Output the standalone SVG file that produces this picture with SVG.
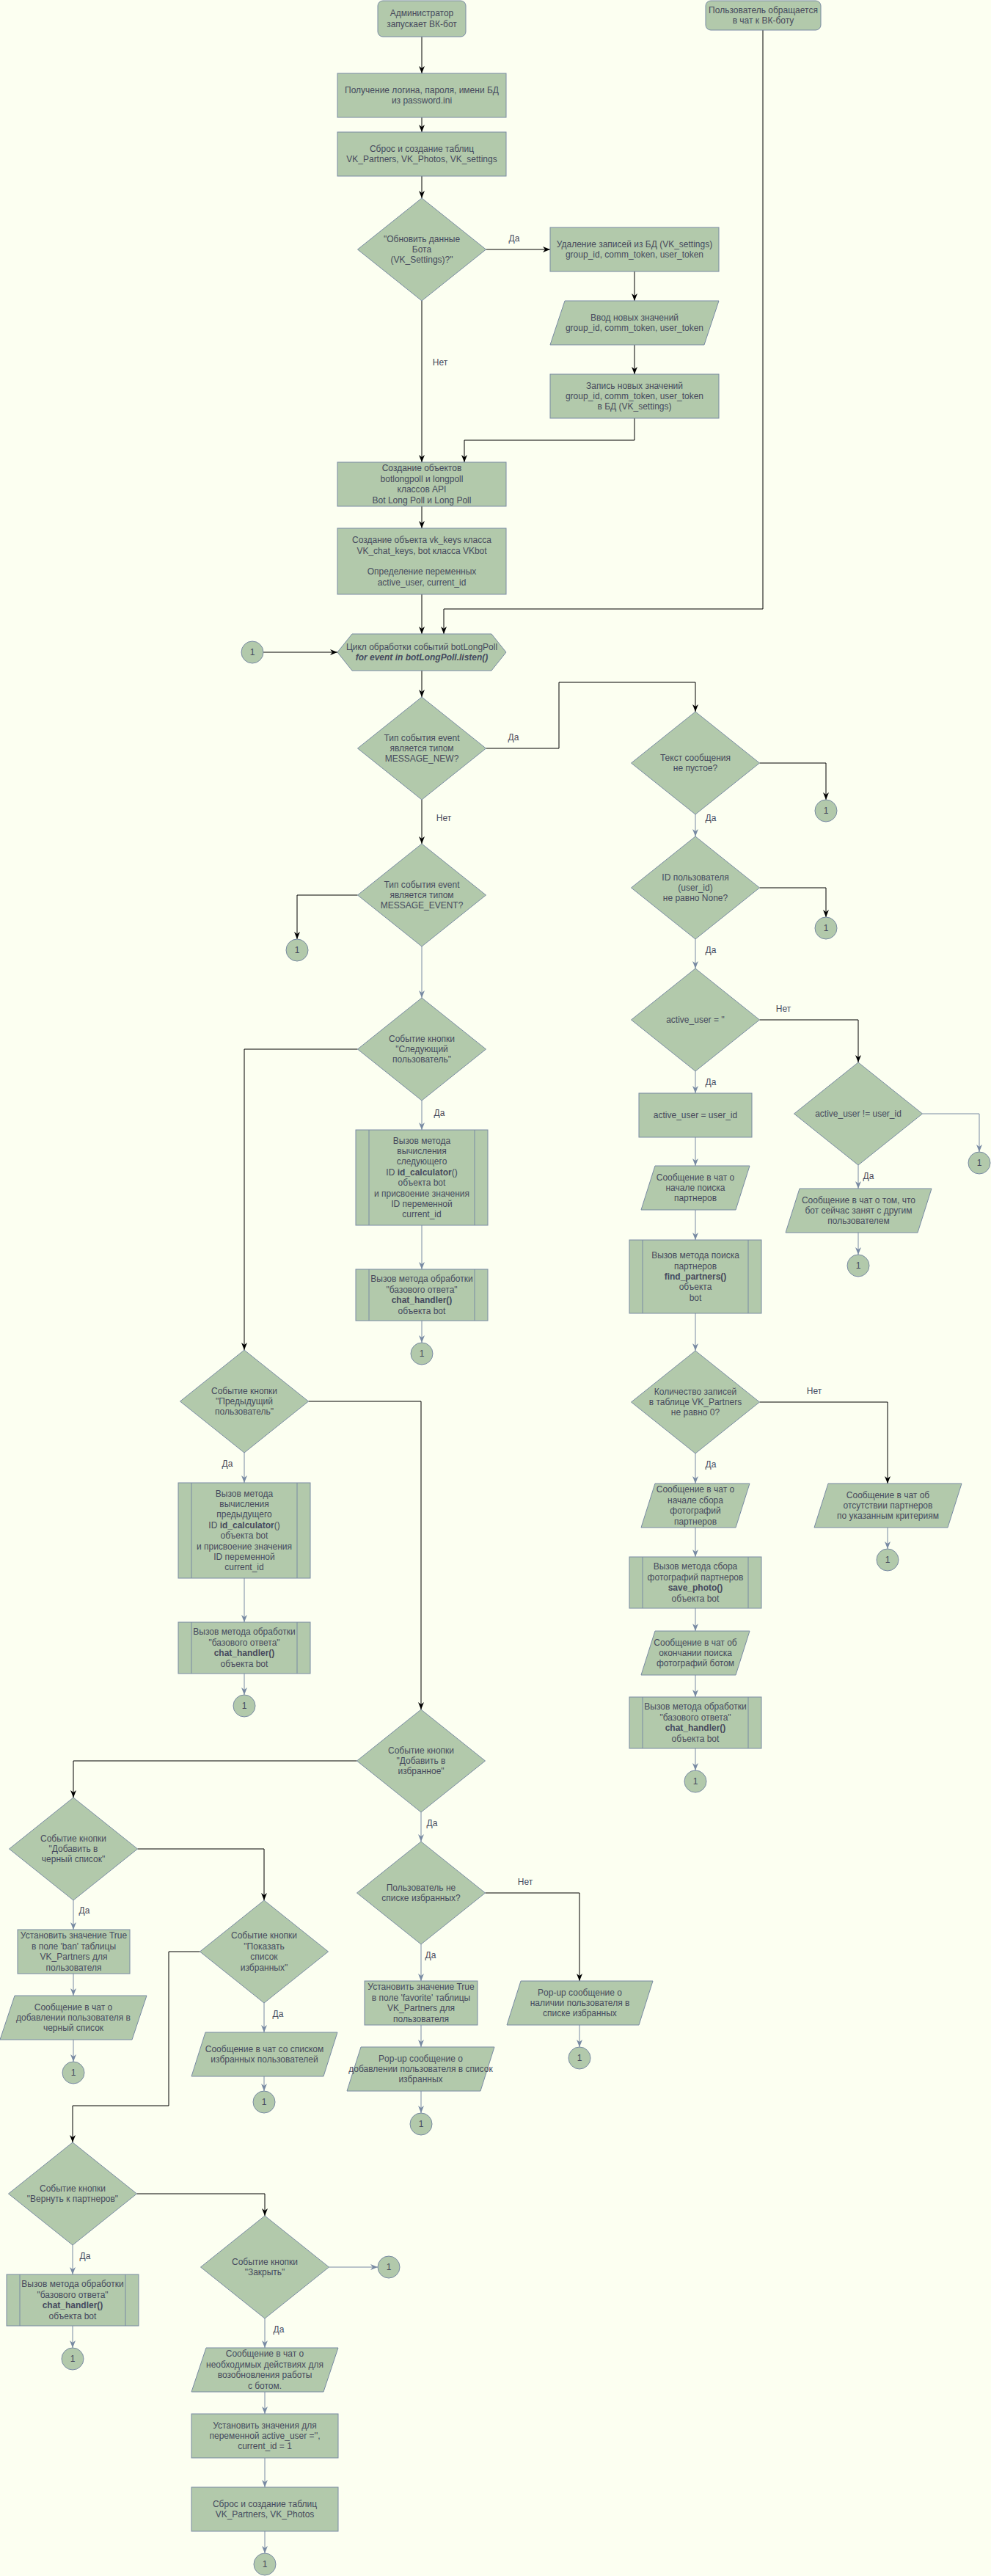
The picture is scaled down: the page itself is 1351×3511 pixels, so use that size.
<svg xmlns="http://www.w3.org/2000/svg" width="1351" height="3511" viewBox="0 0 1351 3511">
<style>
.n{fill:#B2C9AB;stroke:#788AA3;stroke-width:1}
.in{fill:none;stroke:#788AA3;stroke-width:1}
.t{font-family:"Liberation Sans",Arial,Helvetica,sans-serif;font-size:12px;fill:#46495D;text-anchor:middle}
.b{font-weight:bold}
.bi{font-weight:bold;font-style:italic}
.k{fill:none;stroke:#000;stroke-width:1}
.g{fill:none;stroke:#788AA3;stroke-width:1}
.k{marker-end:url(#ak)}
.g{marker-end:url(#ag)}
</style>
<defs>
<marker id="ak" viewBox="0 0 10 8" refX="10" refY="4" markerWidth="10" markerHeight="8" markerUnits="userSpaceOnUse" orient="auto"><path d="M0,0 L10,4 L0,8 L3,4 Z" fill="#000"/></marker>
<marker id="ag" viewBox="0 0 10 8" refX="10" refY="4" markerWidth="10" markerHeight="8" markerUnits="userSpaceOnUse" orient="auto"><path d="M0,0 L10,4 L0,8 L3,4 Z" fill="#788AA3"/></marker>
</defs>
<rect x="0" y="0" width="1351" height="3511" fill="#FCFFF1"/>

<g id="connectors">
<path class="k" d="M575,50 V100"/>
<path class="k" d="M575,160 V180"/>
<path class="k" d="M575,240 V270"/>
<path class="k" d="M662.5,340 H750"/>
<path class="k" d="M865,370 V410"/>
<path class="k" d="M865,470 V510"/>
<path class="k" d="M865,570 V600 H633 V630"/>
<path class="k" d="M575,410 V630"/>
<path class="k" d="M575,690 V720"/>
<path class="k" d="M575,810 V864"/>
<path class="k" d="M1040,41 V830 H605 V864"/>
<path class="k" d="M359,889 H460"/>
<path class="k" d="M575,914 V950"/>
<path class="k" d="M662.5,1020 H762 V930 H948 V970"/>
<path class="k" d="M575,1090 V1150"/>
<path class="k" d="M1035.5,1040 H1126 V1090"/>
<path class="g" d="M948,1110 V1140"/>
<path class="k" d="M1035.5,1210 H1126 V1250"/>
<path class="g" d="M948,1280 V1320"/>
<path class="k" d="M487.5,1220 H405 V1280"/>
<path class="g" d="M575,1290 V1360"/>
<path class="k" d="M1035.5,1390 H1170 V1448"/>
<path class="g" d="M948,1460 V1490"/>
<path class="g" d="M948,1550 V1589"/>
<path class="g" d="M948,1649 V1690"/>
<path class="g" d="M948,1790 V1841"/>
<path class="g" d="M1257.5,1518 H1335 V1570"/>
<path class="g" d="M1170,1588 V1620"/>
<path class="g" d="M1170,1680 V1710"/>
<path class="k" d="M1035.5,1911 H1210 V2022"/>
<path class="g" d="M1210,2082 V2111"/>
<path class="g" d="M948,1981 V2022"/>
<path class="g" d="M948,2082 V2122"/>
<path class="g" d="M948,2192 V2223"/>
<path class="g" d="M948,2283 V2313"/>
<path class="g" d="M948,2383 V2413"/>
<path class="g" d="M575,1500 V1540"/>
<path class="g" d="M575,1670 V1730"/>
<path class="g" d="M575,1800 V1830"/>
<path class="k" d="M487.5,1430 H333 V1840"/>
<path class="g" d="M333,1980 V2021"/>
<path class="g" d="M333,2151 V2211"/>
<path class="g" d="M333,2281 V2310"/>
<path class="k" d="M420.5,1910 H574 V2330"/>
<path class="k" d="M486.5,2400 H100 V2450"/>
<path class="g" d="M574,2470 V2510"/>
<path class="k" d="M661.5,2580 H790 V2700"/>
<path class="g" d="M790,2760 V2790"/>
<path class="g" d="M574,2650 V2700"/>
<path class="g" d="M574,2760 V2790"/>
<path class="g" d="M574,2850 V2880"/>
<path class="g" d="M100,2590 V2630"/>
<path class="g" d="M100,2690 V2720"/>
<path class="g" d="M100,2780 V2810"/>
<path class="k" d="M187.5,2520 H360 V2590"/>
<path class="g" d="M360,2730 V2770"/>
<path class="g" d="M360,2830 V2850"/>
<path class="k" d="M272.5,2660 H230 V2870 H99 V2920"/>
<path class="g" d="M99,3060 V3100"/>
<path class="g" d="M99,3170 V3200"/>
<path class="k" d="M186.5,2990 H361 V3020"/>
<path class="g" d="M448.5,3090 H515"/>
<path class="g" d="M361,3160 V3200"/>
<path class="g" d="M361,3260 V3290"/>
<path class="g" d="M361,3350 V3390"/>
<path class="g" d="M361,3450 V3480"/>
<g class="t">
<text x="701" y="329">Да</text>
<text x="600" y="498">Нет</text>
<text x="700" y="1009">Да</text>
<text x="605" y="1119">Нет</text>
<text x="969" y="1119">Да</text>
<text x="969" y="1299">Да</text>
<text x="1068" y="1379">Нет</text>
<text x="969" y="1479">Да</text>
<text x="1184" y="1607">Да</text>
<text x="1110" y="1900">Нет</text>
<text x="969" y="2000">Да</text>
<text x="599" y="1521">Да</text>
<text x="310" y="1999">Да</text>
<text x="589" y="2489">Да</text>
<text x="716" y="2569">Нет</text>
<text x="587" y="2669">Да</text>
<text x="115" y="2608">Да</text>
<text x="379" y="2749">Да</text>
<text x="116" y="3079">Да</text>
<text x="380" y="3179">Да</text>
</g>
</g>

<g id="start-admin"><rect class="n" x="515" y="1" width="120" height="49" rx="7"/>
<text class="t" x="575" y="22.3"><tspan x="575">Администратор</tspan><tspan x="575" dy="14.4">запускает ВК-бот</tspan></text></g>
<g id="start-user"><rect class="n" x="962" y="1" width="157" height="40" rx="7"/>
<text class="t" x="1040.5" y="17.8"><tspan x="1040.5">Пользователь обращается</tspan><tspan x="1040.5" dy="14.4">в чат к ВК-боту</tspan></text></g>
<g id="get-login"><rect class="n" x="460" y="100" width="230" height="60"/>
<text class="t" x="575" y="126.8"><tspan x="575">Получение логина, пароля, имени БД</tspan><tspan x="575" dy="14.4">из password.ini</tspan></text></g>
<g id="reset-tables"><rect class="n" x="460" y="180" width="230" height="60"/>
<text class="t" x="575" y="206.8"><tspan x="575">Сброс и создание таблиц</tspan><tspan x="575" dy="14.4">VK_Partners, VK_Photos, VK_settings</tspan></text></g>
<g id="dec-update"><path class="n" d="M575,270 L662.5,340 L575,410 L487.5,340 Z"/>
<text class="t" x="575" y="329.6"><tspan x="575">"Обновить данные</tspan><tspan x="575" dy="14.4">Бота</tspan><tspan x="575" dy="14.4">(VK_Settings)?"</tspan></text></g>
<g id="delete-settings"><rect class="n" x="750" y="310" width="230" height="60"/>
<text class="t" x="865" y="336.8"><tspan x="865">Удаление записей из БД (VK_settings)</tspan><tspan x="865" dy="14.4">group_id, comm_token, user_token</tspan></text></g>
<g id="input-settings"><path class="n" d="M770,410 L980,410 L960,470 L750,470 Z"/>
<text class="t" x="865" y="436.8"><tspan x="865">Ввод новых значений</tspan><tspan x="865" dy="14.4">group_id, comm_token, user_token</tspan></text></g>
<g id="write-settings"><rect class="n" x="750" y="510" width="230" height="60"/>
<text class="t" x="865" y="529.6"><tspan x="865">Запись новых значений</tspan><tspan x="865" dy="14.4">group_id, comm_token, user_token</tspan><tspan x="865" dy="14.4">в БД (VK_settings)</tspan></text></g>
<g id="create-longpoll"><rect class="n" x="460" y="630" width="230" height="60"/>
<text class="t" x="575" y="642.4"><tspan x="575">Создание объектов</tspan><tspan x="575" dy="14.4">botlongpoll и longpoll</tspan><tspan x="575" dy="14.4">классов API</tspan><tspan x="575" dy="14.4">Bot Long Poll и Long Poll</tspan></text></g>
<g id="create-keys"><rect class="n" x="460" y="720" width="230" height="90"/>
<text class="t" x="575" y="740.2"><tspan x="575">Создание объекта vk_keys класса</tspan><tspan x="575" dy="14.4">VK_chat_keys, bot класса VKbot</tspan><tspan x="575" dy="28.8">Определение переменных</tspan><tspan x="575" dy="14.4">active_user, current_id</tspan></text></g>
<g id="loop"><path class="n" d="M480,864 L670,864 L690,889 L670,914 L480,914 L460,889 Z"/>
<text class="t" x="575" y="885.8"><tspan x="575">Цикл обработки событий botLongPoll</tspan><tspan x="575" dy="14.4" class="bi">for event in botLongPoll.listen()</tspan></text></g>
<g id="c-loop"><circle class="n" cx="344" cy="889" r="15"/><text class="t" x="344" y="893">1</text></g>

<g id="dec-msg-new"><path class="n" d="M575,950 L662.5,1020 L575,1090 L487.5,1020 Z"/>
<text class="t" x="575" y="1009.6"><tspan x="575">Тип события event</tspan><tspan x="575" dy="14.4">является типом</tspan><tspan x="575" dy="14.4">MESSAGE_NEW?</tspan></text></g>
<g id="dec-text"><path class="n" d="M948,970 L1035.5,1040 L948,1110 L860.5,1040 Z"/>
<text class="t" x="948" y="1036.8"><tspan x="948">Текст сообщения</tspan><tspan x="948" dy="14.4">не пустое?</tspan></text></g>
<g id="c-text"><circle class="n" cx="1126" cy="1105" r="15"/><text class="t" x="1126" y="1109">1</text></g>
<g id="dec-id"><path class="n" d="M948,1140 L1035.5,1210 L948,1280 L860.5,1210 Z"/>
<text class="t" x="948" y="1199.6"><tspan x="948">ID пользователя</tspan><tspan x="948" dy="14.4">(user_id)</tspan><tspan x="948" dy="14.4">не равно None?</tspan></text></g>
<g id="c-id"><circle class="n" cx="1126" cy="1265" r="15"/><text class="t" x="1126" y="1269">1</text></g>
<g id="dec-active-empty"><path class="n" d="M948,1320 L1035.5,1390 L948,1460 L860.5,1390 Z"/>
<text class="t" x="948" y="1394">active_user = ''</text></g>
<g id="dec-active-ne"><path class="n" d="M1170,1448 L1257.5,1518 L1170,1588 L1082.5,1518 Z"/>
<text class="t" x="1170" y="1522">active_user != user_id</text></g>
<g id="c-active-ne"><circle class="n" cx="1335" cy="1585" r="15"/><text class="t" x="1335" y="1589">1</text></g>
<g id="msg-busy"><path class="n" d="M1090,1620 L1270,1620 L1251,1680 L1071,1680 Z"/>
<text class="t" x="1170.5" y="1639.6"><tspan x="1170.5">Сообщение в чат о том, что</tspan><tspan x="1170.5" dy="14.4">бот сейчас занят с другим</tspan><tspan x="1170.5" dy="14.4">пользователем</tspan></text></g>
<g id="c-busy"><circle class="n" cx="1170" cy="1725" r="15"/><text class="t" x="1170" y="1729">1</text></g>
<g id="set-active"><rect class="n" x="871" y="1490" width="154" height="60"/>
<text class="t" x="948" y="1524">active_user = user_id</text></g>
<g id="msg-search"><path class="n" d="M893,1589 L1022,1589 L1003,1649 L874,1649 Z"/>
<text class="t" x="948" y="1608.6"><tspan x="948">Сообщение в чат о</tspan><tspan x="948" dy="14.4">начале поиска</tspan><tspan x="948" dy="14.4">партнеров</tspan></text></g>
<g id="find-partners"><rect class="n" x="858" y="1690" width="180" height="100"/><path class="in" d="M876,1690 V1790 M1020,1690 V1790"/>
<text class="t" x="948" y="1715.2"><tspan x="948">Вызов метода поиска</tspan><tspan x="948" dy="14.4">партнеров</tspan><tspan x="948" dy="14.4" class="b">find_partners()</tspan><tspan x="948" dy="14.4">объекта</tspan><tspan x="948" dy="14.4">bot</tspan></text></g>
<g id="dec-count"><path class="n" d="M948,1841 L1035.5,1911 L948,1981 L860.5,1911 Z"/>
<text class="t" x="948" y="1900.6"><tspan x="948">Количество записей</tspan><tspan x="948" dy="14.4">в таблице VK_Partners</tspan><tspan x="948" dy="14.4">не равно 0?</tspan></text></g>
<g id="msg-none"><path class="n" d="M1129,2022 L1311,2022 L1292,2082 L1110,2082 Z"/>
<text class="t" x="1210.5" y="2041.6"><tspan x="1210.5">Сообщение в чат об</tspan><tspan x="1210.5" dy="14.4">отсутствии партнеров</tspan><tspan x="1210.5" dy="14.4">по указанным критериям</tspan></text></g>
<g id="c-none"><circle class="n" cx="1210" cy="2126" r="15"/><text class="t" x="1210" y="2130">1</text></g>
<g id="msg-photo-start"><path class="n" d="M893,2022 L1022,2022 L1003,2082 L874,2082 Z"/>
<text class="t" x="948" y="2034.4"><tspan x="948">Сообщение в чат о</tspan><tspan x="948" dy="14.4">начале сбора</tspan><tspan x="948" dy="14.4">фотографий</tspan><tspan x="948" dy="14.4">партнеров</tspan></text></g>
<g id="save-photo"><rect class="n" x="858" y="2122" width="180" height="70"/><path class="in" d="M876,2122 V2192 M1020,2122 V2192"/>
<text class="t" x="948" y="2139.4"><tspan x="948">Вызов метода сбора</tspan><tspan x="948" dy="14.4">фотографий партнеров</tspan><tspan x="948" dy="14.4" class="b">save_photo()</tspan><tspan x="948" dy="14.4">объекта bot</tspan></text></g>
<g id="msg-photo-end"><path class="n" d="M893,2223 L1022,2223 L1003,2283 L874,2283 Z"/>
<text class="t" x="948" y="2242.6"><tspan x="948">Сообщение в чат об</tspan><tspan x="948" dy="14.4">окончании поиска</tspan><tspan x="948" dy="14.4">фотографий ботом</tspan></text></g>
<g id="handler-new"><rect class="n" x="858" y="2313" width="180" height="70"/><path class="in" d="M876,2313 V2383 M1020,2313 V2383"/>
<text class="t" x="948" y="2330.4"><tspan x="948">Вызов метода обработки</tspan><tspan x="948" dy="14.4">"базового ответа"</tspan><tspan x="948" dy="14.4" class="b">chat_handler()</tspan><tspan x="948" dy="14.4">объекта bot</tspan></text></g>
<g id="c-handler-new"><circle class="n" cx="948" cy="2428" r="15"/><text class="t" x="948" y="2432">1</text></g>

<g id="dec-msg-event"><path class="n" d="M575,1150 L662.5,1220 L575,1290 L487.5,1220 Z"/>
<text class="t" x="575" y="1209.6"><tspan x="575">Тип события event</tspan><tspan x="575" dy="14.4">является типом</tspan><tspan x="575" dy="14.4">MESSAGE_EVENT?</tspan></text></g>
<g id="c-event"><circle class="n" cx="405" cy="1295" r="15"/><text class="t" x="405" y="1299">1</text></g>
<g id="dec-next"><path class="n" d="M575,1360 L662.5,1430 L575,1500 L487.5,1430 Z"/>
<text class="t" x="575" y="1419.6"><tspan x="575">Событие кнопки</tspan><tspan x="575" dy="14.4">"Следующий</tspan><tspan x="575" dy="14.4">пользователь"</tspan></text></g>
<g id="calc-next"><rect class="n" x="485" y="1540" width="180" height="130"/><path class="in" d="M503,1540 V1670 M647,1540 V1670"/>
<text class="t" x="575" y="1558.6"><tspan x="575">Вызов метода</tspan><tspan x="575" dy="14.4">вычисления</tspan><tspan x="575" dy="14.4">следующего</tspan><tspan x="575" dy="14.4">ID <tspan class="b">id_calculator</tspan>()</tspan><tspan x="575" dy="14.4">объекта bot</tspan><tspan x="575" dy="14.4">и присвоение значения</tspan><tspan x="575" dy="14.4">ID переменной</tspan><tspan x="575" dy="14.4">current_id</tspan></text></g>
<g id="handler-next"><rect class="n" x="485" y="1730" width="180" height="70"/><path class="in" d="M503,1730 V1800 M647,1730 V1800"/>
<text class="t" x="575" y="1747.4"><tspan x="575">Вызов метода обработки</tspan><tspan x="575" dy="14.4">"базового ответа"</tspan><tspan x="575" dy="14.4" class="b">chat_handler()</tspan><tspan x="575" dy="14.4">объекта bot</tspan></text></g>
<g id="c-next"><circle class="n" cx="575" cy="1845" r="15"/><text class="t" x="575" y="1849">1</text></g>
<g id="dec-prev"><path class="n" d="M333,1840 L420.5,1910 L333,1980 L245.5,1910 Z"/>
<text class="t" x="333" y="1899.6"><tspan x="333">Событие кнопки</tspan><tspan x="333" dy="14.4">"Предыдущий</tspan><tspan x="333" dy="14.4">пользователь"</tspan></text></g>
<g id="calc-prev"><rect class="n" x="243" y="2021" width="180" height="130"/><path class="in" d="M261,2021 V2151 M405,2021 V2151"/>
<text class="t" x="333" y="2039.6"><tspan x="333">Вызов метода</tspan><tspan x="333" dy="14.4">вычисления</tspan><tspan x="333" dy="14.4">предыдущего</tspan><tspan x="333" dy="14.4">ID <tspan class="b">id_calculator</tspan>()</tspan><tspan x="333" dy="14.4">объекта bot</tspan><tspan x="333" dy="14.4">и присвоение значения</tspan><tspan x="333" dy="14.4">ID переменной</tspan><tspan x="333" dy="14.4">current_id</tspan></text></g>
<g id="handler-prev"><rect class="n" x="243" y="2211" width="180" height="70"/><path class="in" d="M261,2211 V2281 M405,2211 V2281"/>
<text class="t" x="333" y="2228.4"><tspan x="333">Вызов метода обработки</tspan><tspan x="333" dy="14.4">"базового ответа"</tspan><tspan x="333" dy="14.4" class="b">chat_handler()</tspan><tspan x="333" dy="14.4">объекта bot</tspan></text></g>
<g id="c-prev"><circle class="n" cx="333" cy="2325" r="15"/><text class="t" x="333" y="2329">1</text></g>

<g id="dec-fav"><path class="n" d="M574,2330 L661.5,2400 L574,2470 L486.5,2400 Z"/>
<text class="t" x="574" y="2389.6"><tspan x="574">Событие кнопки</tspan><tspan x="574" dy="14.4">"Добавить в</tspan><tspan x="574" dy="14.4">избранное"</tspan></text></g>
<g id="dec-not-fav"><path class="n" d="M574,2510 L661.5,2580 L574,2650 L486.5,2580 Z"/>
<text class="t" x="574" y="2576.8"><tspan x="574">Пользователь не</tspan><tspan x="574" dy="14.4">списке избранных?</tspan></text></g>
<g id="popup-exists"><path class="n" d="M710,2700 L890,2700 L871,2760 L691,2760 Z"/>
<text class="t" x="790.5" y="2719.6"><tspan x="790.5">Pop-up сообщение о</tspan><tspan x="790.5" dy="14.4">наличии пользователя в</tspan><tspan x="790.5" dy="14.4">списке избранных</tspan></text></g>
<g id="c-exists"><circle class="n" cx="790" cy="2805" r="15"/><text class="t" x="790" y="2809">1</text></g>
<g id="set-fav"><rect class="n" x="497" y="2700" width="154" height="60"/>
<text class="t" x="574" y="2712.4"><tspan x="574">Установить значение True</tspan><tspan x="574" dy="14.4">в поле 'favorite' таблицы</tspan><tspan x="574" dy="14.4">VK_Partners для</tspan><tspan x="574" dy="14.4">пользователя</tspan></text></g>
<g id="popup-added"><path class="n" d="M492,2790 L674,2790 L655,2850 L473,2850 Z"/>
<text class="t" x="573.5" y="2809.6"><tspan x="573.5">Pop-up сообщение о</tspan><tspan x="573.5" dy="14.4">добавлении пользователя в список</tspan><tspan x="573.5" dy="14.4">избранных</tspan></text></g>
<g id="c-added"><circle class="n" cx="574" cy="2895" r="15"/><text class="t" x="574" y="2899">1</text></g>

<g id="dec-ban"><path class="n" d="M100,2450 L187.5,2520 L100,2590 L12.5,2520 Z"/>
<text class="t" x="100" y="2509.6"><tspan x="100">Событие кнопки</tspan><tspan x="100" dy="14.4">"Добавить в</tspan><tspan x="100" dy="14.4">черный список"</tspan></text></g>
<g id="set-ban"><rect class="n" x="24" y="2630" width="153" height="60"/>
<text class="t" x="100.5" y="2642.4"><tspan x="100.5">Установить значение True</tspan><tspan x="100.5" dy="14.4">в поле 'ban' таблицы</tspan><tspan x="100.5" dy="14.4">VK_Partners для</tspan><tspan x="100.5" dy="14.4">пользователя</tspan></text></g>
<g id="msg-ban"><path class="n" d="M20,2720 L200,2720 L180,2780 L0,2780 Z"/>
<text class="t" x="100" y="2739.6"><tspan x="100">Сообщение в чат о</tspan><tspan x="100" dy="14.4">добавлении пользователя в</tspan><tspan x="100" dy="14.4">черный список</tspan></text></g>
<g id="c-ban"><circle class="n" cx="100" cy="2825" r="15"/><text class="t" x="100" y="2829">1</text></g>
<g id="dec-show"><path class="n" d="M360,2590 L447.5,2660 L360,2730 L272.5,2660 Z"/>
<text class="t" x="360" y="2642.4"><tspan x="360">Событие кнопки</tspan><tspan x="360" dy="14.4">"Показать</tspan><tspan x="360" dy="14.4">список</tspan><tspan x="360" dy="14.4">избранных"</tspan></text></g>
<g id="msg-show"><path class="n" d="M280,2770 L460,2770 L441,2830 L261,2830 Z"/>
<text class="t" x="360.5" y="2796.8"><tspan x="360.5">Сообщение в чат со списком</tspan><tspan x="360.5" dy="14.4">избранных пользователей</tspan></text></g>
<g id="c-show"><circle class="n" cx="360" cy="2865" r="15"/><text class="t" x="360" y="2869">1</text></g>

<g id="dec-back"><path class="n" d="M99,2920 L186.5,2990 L99,3060 L11.5,2990 Z"/>
<text class="t" x="99" y="2986.8"><tspan x="99">Событие кнопки</tspan><tspan x="99" dy="14.4">"Вернуть к партнеров"</tspan></text></g>
<g id="handler-back"><rect class="n" x="9" y="3100" width="180" height="70"/><path class="in" d="M27,3100 V3170 M171,3100 V3170"/>
<text class="t" x="99" y="3117.4"><tspan x="99">Вызов метода обработки</tspan><tspan x="99" dy="14.4">"базового ответа"</tspan><tspan x="99" dy="14.4" class="b">chat_handler()</tspan><tspan x="99" dy="14.4">объекта bot</tspan></text></g>
<g id="c-back"><circle class="n" cx="99" cy="3215" r="15"/><text class="t" x="99" y="3219">1</text></g>
<g id="dec-close"><path class="n" d="M361,3020 L448.5,3090 L361,3160 L273.5,3090 Z"/>
<text class="t" x="361" y="3086.8"><tspan x="361">Событие кнопки</tspan><tspan x="361" dy="14.4">"Закрыть"</tspan></text></g>
<g id="c-close-no"><circle class="n" cx="530" cy="3090" r="15"/><text class="t" x="530" y="3094">1</text></g>
<g id="msg-close"><path class="n" d="M281,3200 L461,3200 L441,3260 L261,3260 Z"/>
<text class="t" x="361" y="3212.4"><tspan x="361">Сообщение в чат о</tspan><tspan x="361" dy="14.4">необходимых действиях для</tspan><tspan x="361" dy="14.4">возобновления работы</tspan><tspan x="361" dy="14.4">с ботом.</tspan></text></g>
<g id="reset-vars"><rect class="n" x="261" y="3290" width="200" height="60"/>
<text class="t" x="361" y="3309.6"><tspan x="361">Установить значения для</tspan><tspan x="361" dy="14.4">переменной active_user ='',</tspan><tspan x="361" dy="14.4">current_id = 1</tspan></text></g>
<g id="reset-partners"><rect class="n" x="261" y="3390" width="200" height="60"/>
<text class="t" x="361" y="3416.8"><tspan x="361">Сброс и создание таблиц</tspan><tspan x="361" dy="14.4">VK_Partners, VK_Photos</tspan></text></g>
<g id="c-close"><circle class="n" cx="361" cy="3495" r="15"/><text class="t" x="361" y="3499">1</text></g>
</svg>
